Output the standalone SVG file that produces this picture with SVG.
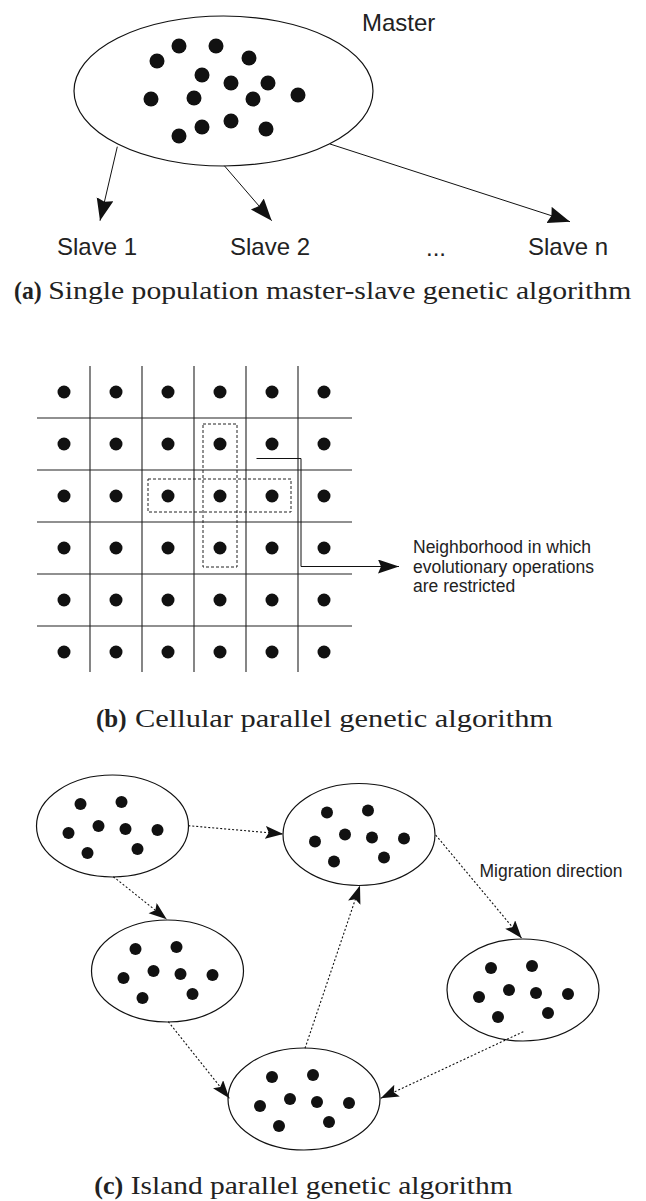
<svg xmlns="http://www.w3.org/2000/svg" xmlns:xlink="http://www.w3.org/1999/xlink" width="646" height="1201" viewBox="0 0 646 1201">
<style>
.ell{fill:#fff;stroke:#111;stroke-width:1.2}
.dot{fill:#111}
.sans{font-family:"Liberation Sans",Arial,sans-serif;fill:#222}
.serif{font-family:"Liberation Serif","Times New Roman",serif;fill:#222;font-size:25px}
.conn{stroke:#111;stroke-width:1;fill:none}
.dotted{stroke:#111;stroke-width:1.1;fill:none;stroke-dasharray:2 2}
.grid{stroke:#222;stroke-width:1.1}
.dash{fill:none;stroke:#222;stroke-width:1;stroke-dasharray:3 2}
</style>
<defs>
<marker id="ahSolid" markerUnits="userSpaceOnUse" markerWidth="24" markerHeight="18" refX="22" refY="8.5" orient="auto"><path d="M0,0 L22,8.5 L0,17 L2.5,8.5 Z" fill="#111"/></marker>
<marker id="ahDot" markerUnits="userSpaceOnUse" markerWidth="20" markerHeight="14" refX="18" refY="6.5" orient="auto"><path d="M0,0 L18,6.5 L0,13 L3.5,6.5 Z" fill="#111"/></marker>
<marker id="ahLead" markerUnits="userSpaceOnUse" markerWidth="23" markerHeight="16" refX="21" refY="7" orient="auto"><path d="M0,0 L21,7 L0,14 L3,7 Z" fill="#111"/></marker>
<g id="islandShape">
<ellipse class="ell" cx="0" cy="0" rx="76" ry="51"/>
<circle class="dot" cx="-32" cy="-22" r="6"/>
<circle class="dot" cx="9" cy="-24" r="6"/>
<circle class="dot" cx="-44" cy="7" r="6"/>
<circle class="dot" cx="-14" cy="0" r="6"/>
<circle class="dot" cx="13" cy="3" r="6"/>
<circle class="dot" cx="45" cy="4" r="6"/>
<circle class="dot" cx="-25" cy="27" r="6"/>
<circle class="dot" cx="25" cy="23" r="6"/>
</g>
</defs>

<!-- (a) master-slave -->
<g id="master">
<ellipse class="ell" cx="223.5" cy="91" rx="149.5" ry="75"/>
<circle class="dot" cx="157" cy="61" r="7.5"/>
<circle class="dot" cx="179" cy="46" r="7.5"/>
<circle class="dot" cx="216" cy="46" r="7.5"/>
<circle class="dot" cx="249" cy="58" r="7.5"/>
<circle class="dot" cx="202" cy="75" r="7.5"/>
<circle class="dot" cx="231" cy="83" r="7.5"/>
<circle class="dot" cx="268" cy="83" r="7.5"/>
<circle class="dot" cx="151" cy="99" r="7.5"/>
<circle class="dot" cx="194" cy="98" r="7.5"/>
<circle class="dot" cx="253" cy="99" r="7.5"/>
<circle class="dot" cx="298" cy="95" r="7.5"/>
<circle class="dot" cx="179" cy="136" r="7.5"/>
<circle class="dot" cx="202" cy="127" r="7.5"/>
<circle class="dot" cx="231" cy="121" r="7.5"/>
<circle class="dot" cx="266" cy="129" r="7.5"/>
<text class="sans" x="362" y="31" font-size="24">Master</text>
</g>
<g id="slave1"><text class="sans" x="57" y="255" font-size="24">Slave 1</text></g>
<g id="slave2"><text class="sans" x="230" y="255" font-size="24">Slave 2</text></g>
<g id="ellipsis"><text class="sans" x="426" y="256" font-size="24">...</text></g>
<g id="slaven"><text class="sans" x="528" y="255" font-size="24">Slave n</text></g>
<g id="connectors-a">
<line class="conn" x1="117.3" y1="146.7" x2="100" y2="220.7" marker-end="url(#ahSolid)"/>
<line class="conn" x1="224.3" y1="165.7" x2="271.7" y2="220.7" marker-end="url(#ahSolid)"/>
<line class="conn" x1="330" y1="144" x2="570" y2="221.7" marker-end="url(#ahSolid)"/>
</g>
<g id="caption-a">
<text class="serif" x="14" y="299" font-weight="bold" textLength="27.7" lengthAdjust="spacingAndGlyphs">(a)</text>
<text class="serif" x="48.3" y="299" textLength="583" lengthAdjust="spacingAndGlyphs">Single population master-slave genetic algorithm</text>
</g>

<!-- (b) cellular grid -->
<g id="grid">
<line class="grid" x1="37" y1="418" x2="352" y2="418"/>
<line class="grid" x1="37" y1="470" x2="352" y2="470"/>
<line class="grid" x1="37" y1="522" x2="352" y2="522"/>
<line class="grid" x1="37" y1="574" x2="352" y2="574"/>
<line class="grid" x1="37" y1="626" x2="352" y2="626"/>
<line class="grid" x1="90" y1="366" x2="90" y2="672"/>
<line class="grid" x1="142" y1="366" x2="142" y2="672"/>
<line class="grid" x1="194" y1="366" x2="194" y2="672"/>
<line class="grid" x1="246" y1="366" x2="246" y2="672"/>
<line class="grid" x1="298" y1="366" x2="298" y2="672"/>
</g>
<g id="cells">
<circle class="dot" cx="64" cy="392" r="6.5"/><circle class="dot" cx="116" cy="392" r="6.5"/><circle class="dot" cx="168" cy="392" r="6.5"/><circle class="dot" cx="220" cy="392" r="6.5"/><circle class="dot" cx="272" cy="392" r="6.5"/><circle class="dot" cx="324" cy="392" r="6.5"/>
<circle class="dot" cx="64" cy="444" r="6.5"/><circle class="dot" cx="116" cy="444" r="6.5"/><circle class="dot" cx="168" cy="444" r="6.5"/><circle class="dot" cx="220" cy="444" r="6.5"/><circle class="dot" cx="272" cy="444" r="6.5"/><circle class="dot" cx="324" cy="444" r="6.5"/>
<circle class="dot" cx="64" cy="496" r="6.5"/><circle class="dot" cx="116" cy="496" r="6.5"/><circle class="dot" cx="168" cy="496" r="6.5"/><circle class="dot" cx="220" cy="496" r="6.5"/><circle class="dot" cx="272" cy="496" r="6.5"/><circle class="dot" cx="324" cy="496" r="6.5"/>
<circle class="dot" cx="64" cy="548" r="6.5"/><circle class="dot" cx="116" cy="548" r="6.5"/><circle class="dot" cx="168" cy="548" r="6.5"/><circle class="dot" cx="220" cy="548" r="6.5"/><circle class="dot" cx="272" cy="548" r="6.5"/><circle class="dot" cx="324" cy="548" r="6.5"/>
<circle class="dot" cx="64" cy="600" r="6.5"/><circle class="dot" cx="116" cy="600" r="6.5"/><circle class="dot" cx="168" cy="600" r="6.5"/><circle class="dot" cx="220" cy="600" r="6.5"/><circle class="dot" cx="272" cy="600" r="6.5"/><circle class="dot" cx="324" cy="600" r="6.5"/>
<circle class="dot" cx="64" cy="652" r="6.5"/><circle class="dot" cx="116" cy="652" r="6.5"/><circle class="dot" cx="168" cy="652" r="6.5"/><circle class="dot" cx="220" cy="652" r="6.5"/><circle class="dot" cx="272" cy="652" r="6.5"/><circle class="dot" cx="324" cy="652" r="6.5"/>
</g>
<g id="neighborhood">
<rect class="dash" x="203" y="424" width="34" height="143"/>
<rect class="dash" x="148" y="479" width="143" height="33"/>
</g>
<g id="connectors-b">
<polyline class="conn" points="256.5,458.5 301,458.5 301,566.5 399,566.5" marker-end="url(#ahLead)"/>
</g>
<g id="neighborhood-label">
<text class="sans" font-size="17.5"><tspan x="413" y="553">Neighborhood in which</tspan><tspan x="413" y="572.5">evolutionary operations</tspan><tspan x="413" y="592">are restricted</tspan></text>
</g>
<g id="caption-b">
<text class="serif" x="96" y="727" font-weight="bold" textLength="30.5" lengthAdjust="spacingAndGlyphs">(b)</text>
<text class="serif" x="135" y="727" textLength="418" lengthAdjust="spacingAndGlyphs">Cellular parallel genetic algorithm</text>
</g>

<!-- (c) island model -->
<g id="island1" transform="translate(112.5,826)"><use xlink:href="#islandShape" href="#islandShape"/></g>
<g id="island2" transform="translate(359,834.5)"><use xlink:href="#islandShape" href="#islandShape"/></g>
<g id="island3" transform="translate(523,990)"><use xlink:href="#islandShape" href="#islandShape"/></g>
<g id="island4" transform="translate(167.5,971)"><use xlink:href="#islandShape" href="#islandShape"/></g>
<g id="island5" transform="translate(304,1099)"><use xlink:href="#islandShape" href="#islandShape"/></g>
<g id="connectors-c">
<line class="dotted" x1="188.3" y1="825.7" x2="283.3" y2="834" marker-end="url(#ahDot)"/>
<line class="dotted" x1="113.3" y1="876.7" x2="166.7" y2="919.3" marker-end="url(#ahDot)"/>
<line class="dotted" x1="435.7" y1="835" x2="521.7" y2="938.3" marker-end="url(#ahDot)"/>
<line class="dotted" x1="305" y1="1048.3" x2="360" y2="885.5" marker-end="url(#ahDot)"/>
<line class="dotted" x1="168.3" y1="1021.7" x2="229.3" y2="1098.3" marker-end="url(#ahDot)"/>
<line class="dotted" x1="523.3" y1="1031.7" x2="380.7" y2="1098.3" marker-end="url(#ahDot)"/>
</g>
<g id="migration-label"><text class="sans" x="479.5" y="877" font-size="17.5">Migration direction</text></g>
<g id="caption-c">
<text class="serif" x="94.3" y="1194" font-weight="bold" textLength="29" lengthAdjust="spacingAndGlyphs">(c)</text>
<text class="serif" x="130.7" y="1194" textLength="382" lengthAdjust="spacingAndGlyphs">Island parallel genetic algorithm</text>
</g>
</svg>
